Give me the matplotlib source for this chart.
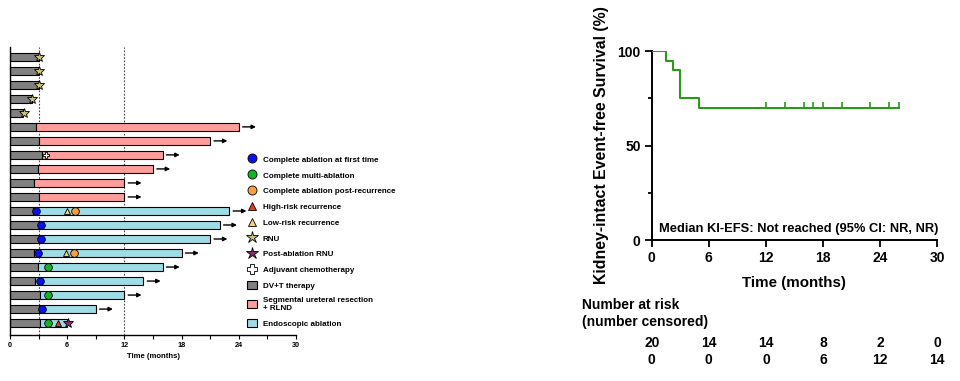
import matplotlib
matplotlib.use('Agg')
import matplotlib.pyplot as plt
from matplotlib.lines import Line2D
from matplotlib.patches import Patch
from matplotlib.transforms import blended_transform_factory

plt.rcParams['font.family'] = ['Liberation Sans', 'DejaVu Sans']
plt.rcParams['font.weight'] = 'bold'

# ── Swimmer data (20 patients, top to bottom) ──────────────────────────────────
dvt_end = [3.0, 3.0, 3.0, 2.3, 1.4, 2.7, 3.0, 3.4, 2.9, 2.5,
           3.0, 2.4, 3.0, 3.0, 2.5, 2.9, 2.6, 3.2, 3.0, 3.2]
treat_end = [None, None, None, None, None, 24, 21, 16, 15, 12,
             12, 23, 22, 21, 18, 16, 14, 12, 9, 6]
treat_type = ['none'] * 5 + ['seg'] * 6 + ['endo'] * 9
ongoing = [False] * 5 + [True] * 14 + [False]

rnu_rows, rnu_x = [0, 1, 2, 3, 4], [3.0, 3.0, 3.0, 2.3, 1.5]
chemo_rows, chemo_x = [7], [3.8]
first_rows, first_x = [11, 12, 13, 14, 16, 18], [2.7, 3.3, 3.3, 2.9, 3.1, 3.4]
multi_rows, multi_x = [15, 17, 19], [4.0, 4.0, 4.0]
post_rec_rows, post_rec_x = [11, 14], [6.8, 6.7]
low_rows, low_x = [11, 14], [6.0, 5.9]
high_rows, high_x = [19], [5.0]
post_rnu_rows, post_rnu_x = [19], [6.1]

# ── KM data ────────────────────────────────────────────────────────────────────
km_t = [0, 1.5, 2.2, 3, 5, 26]
km_s = [100, 95, 90, 75, 70, 70]
censor_t = [12, 14, 16, 17, 18, 20, 23, 25, 26]
risk_times = [0, 6, 12, 18, 24, 30]
at_risk = [20, 14, 14, 8, 2, 0]
censored = [0, 0, 0, 6, 12, 14]

C_DVT = '#808080'
C_SEG = '#ff9d9d'
C_ENDO = '#9edde6'
C_BLUE = '#0a10f0'
C_GREEN = '#10b820'
C_ORANGE = '#f7a040'
C_HIGH = '#e0401a'
C_LOW = '#f2d47a'
C_RNU = '#c8c27a'
C_PRNU = '#8a2a6e'
C_KM = '#2a9a1a'

fig = plt.figure(figsize=(9.6, 3.81), dpi=100)

# ── Swimmer plot ───────────────────────────────────────────────────────────────
ax = fig.add_axes([0.0104, 0.1207, 0.298, 0.756])
bh = 0.6
for i in range(len(dvt_end)):
    ax.barh(i, dvt_end[i], left=0, height=bh, color=C_DVT, edgecolor='black', linewidth=0.8, zorder=2)
    if treat_end[i] is not None:
        c = C_SEG if treat_type[i] == 'seg' else C_ENDO
        ax.barh(i, treat_end[i] - dvt_end[i], left=dvt_end[i], height=bh, color=c,
                edgecolor='black', linewidth=0.8, zorder=2)
    if ongoing[i]:
        ax.annotate('', xy=(treat_end[i] + 1.8, i), xytext=(treat_end[i] + 0.4, i),
                    arrowprops=dict(arrowstyle='-|>', color='black', lw=1.0,
                                    mutation_scale=6, shrinkA=0, shrinkB=0))

mk = dict(markeredgecolor='black', markeredgewidth=0.6, linestyle='none', zorder=4)
ax.plot(rnu_x, rnu_rows, marker='*', ms=7.5, color=C_RNU, **mk)
ax.plot(chemo_x, chemo_rows, marker='P', ms=5, color='white', **mk)
ax.plot(first_x, first_rows, marker='o', ms=5.5, color=C_BLUE, **mk)
ax.plot(multi_x, multi_rows, marker='o', ms=5.5, color=C_GREEN, **mk)
ax.plot(post_rec_x, post_rec_rows, marker='o', ms=5.5, color=C_ORANGE, **mk)
ax.plot(low_x, low_rows, marker='^', ms=4.5, color=C_LOW, **mk)
ax.plot(high_x, high_rows, marker='^', ms=4.5, color=C_HIGH, **mk)
ax.plot(post_rnu_x, post_rnu_rows, marker='*', ms=7.5, color=C_PRNU, **mk)

for xv in (3, 12):
    ax.axvline(xv, color='#444444', linestyle=(0, (1.5, 1.5)), linewidth=0.8, zorder=1)

ax.set_xlim(0, 30)
ax.set_ylim(19.85, -0.7)
ax.set_yticks([])
ax.set_xticks([0, 6, 12, 18, 24, 30])
ax.set_xticks([3, 9, 15, 21, 27], minor=True)
ax.tick_params(axis='x', which='both', length=3, width=0.8, labelsize=5.2, pad=2)
ax.set_xlabel('Time (months)', fontsize=5.6, fontweight='bold', labelpad=3)
for s in ('top', 'right'):
    ax.spines[s].set_visible(False)
for s in ('left', 'bottom'):
    ax.spines[s].set_linewidth(1.0)

handles = [
    Line2D([], [], marker='o', ms=6.5, color=C_BLUE, **mk),
    Line2D([], [], marker='o', ms=6.5, color=C_GREEN, **mk),
    Line2D([], [], marker='o', ms=6.5, color=C_ORANGE, **mk),
    Line2D([], [], marker='^', ms=5.5, color=C_HIGH, **mk),
    Line2D([], [], marker='^', ms=5.5, color=C_LOW, **mk),
    Line2D([], [], marker='*', ms=9, color=C_RNU, **mk),
    Line2D([], [], marker='*', ms=9, color=C_PRNU, **mk),
    Line2D([], [], marker='P', ms=7, color='white', **mk),
    Patch(facecolor=C_DVT, edgecolor='black', linewidth=0.8),
    Patch(facecolor=C_SEG, edgecolor='black', linewidth=0.8),
    Patch(facecolor=C_ENDO, edgecolor='black', linewidth=0.8),
]
labels = ['Complete ablation at first time', 'Complete multi-ablation',
          'Complete ablation post-recurrence', 'High-risk recurrence',
          'Low-risk recurrence', 'RNU', 'Post-ablation RNU', 'Adjuvant chemotherapy',
          'DV+T therapy', 'Segmental ureteral resection\n+ RLND', 'Endoscopic ablation']
fig.legend(handles, labels, loc='upper left', bbox_to_anchor=(247 / 960, 1 - 155 / 381),
           frameon=False, fontsize=5.8, labelspacing=0.86, handlelength=1.2,
           handleheight=1.2, handletextpad=0.75, borderpad=0, borderaxespad=0)

# ── Kaplan-Meier plot ──────────────────────────────────────────────────────────
ax2 = fig.add_axes([0.679, 0.370, 0.297, 0.496])
ax2.step(km_t, km_s, where='post', color=C_KM, linewidth=1.5, zorder=3)
cens_s = [km_s[-1]] * len(censor_t)
ax2.plot(censor_t, cens_s, linestyle='none', marker=2, ms=4.5, mew=1.2, color=C_KM, zorder=3)
ax2.set_xlim(0, 30)
ax2.set_ylim(0, 100)
ax2.set_xticks([0, 6, 12, 18, 24, 30])
ax2.set_yticks([0, 50, 100])
ax2.set_yticks([25, 75], minor=True)
ax2.tick_params(axis='both', which='major', length=5, width=1.3, labelsize=10, pad=3)
ax2.tick_params(axis='y', which='minor', length=3, width=1.3)
for s in ('top', 'right'):
    ax2.spines[s].set_visible(False)
for s in ('left', 'bottom'):
    ax2.spines[s].set_linewidth(1.4)
ax2.set_xlabel('Time (months)', fontsize=10.9, fontweight='bold', labelpad=8)
ax2.set_ylabel('Kidney-intact Event-free Survival (%)', fontsize=11.4, fontweight='bold', labelpad=6)
ax2.text(15.4, 5.8, 'Median KI-EFS: Not reached (95% CI: NR, NR)', ha='center', va='center',
         fontsize=9.3, fontweight='bold')

# number at risk table
tr = blended_transform_factory(ax2.transData, fig.transFigure)
fig.text(582 / 960, 1 - 305 / 381, 'Number at risk', fontsize=10, fontweight='bold', va='center')
fig.text(582 / 960, 1 - 322 / 381, '(number censored)', fontsize=10, fontweight='bold', va='center')
for t, n, c in zip(risk_times, at_risk, censored):
    ax2.text(t, 1 - 343 / 381, str(n), transform=tr, ha='center', va='center',
             fontsize=10, fontweight='bold')
    ax2.text(t, 1 - 360 / 381, str(c), transform=tr, ha='center', va='center',
             fontsize=10, fontweight='bold')

fig.savefig('out.png', dpi=100)
